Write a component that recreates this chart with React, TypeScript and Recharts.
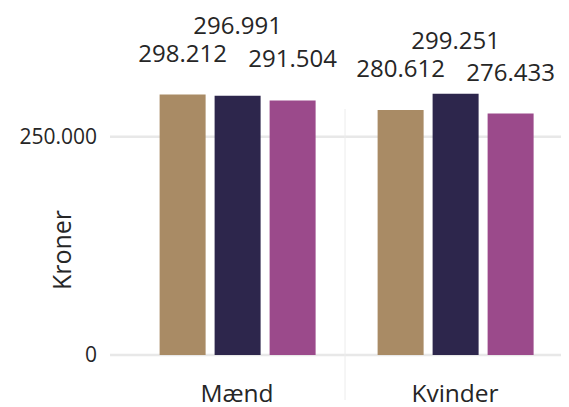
import { BarChart, Bar, XAxis, YAxis, CartesianGrid } from "recharts";

const categories = ["Mænd", "Kvinder"];
const series1 = [298212, 280612];
const series2 = [296991, 299251];
const series3 = [291504, 276433];
const yTicks = [0, 250000];

const colors = ["#A98B65", "#2D264C", "#9B4A8B"];
const FONT = "'Open Sans', sans-serif";
const TEXT = "#262626";

const data = categories.map((name, i) => ({
  name,
  a: series1[i],
  b: series2[i],
  c: series3[i],
}));

const fmt = (v: number) => v.toLocaleString("da-DK");

// label sits a fixed distance above the bar; the middle one is pushed up
// so it doesn't collide with its neighbours
const LABEL_GAP = 42.5;
const STACK_GAP = 27.5;

function makeLabel(kind: "side" | "middle") {
  return (props: any) => {
    const { x, y, width, height, value, index } = props;
    let cy = y - LABEL_GAP;
    if (kind === "middle") {
      const perUnit = height / value;
      const base = y + height;
      const nTops = [series1[index], series3[index]].map(
        (v) => base - v * perUnit - LABEL_GAP
      );
      cy = Math.min(cy, Math.min(...nTops) - STACK_GAP);
    }
    return (
      <text
        x={x + width / 2}
        y={cy}
        textAnchor="middle"
        dominantBaseline="central"
        fontSize={24}
        fontFamily={FONT}
        fill={TEXT}
      >
        {fmt(value)}
      </text>
    );
  };
}

function XTick(props: any) {
  const { x, y, payload, index } = props;
  return (
    <g>
      {index === 1 && (
        <line
          x1={x - 110}
          x2={x - 110}
          y1={y - 273}
          y2={y + 18}
          stroke="#ececec"
          strokeWidth={1}
        />
      )}
      <text
        x={x}
        y={y + 10}
        textAnchor="middle"
        dominantBaseline="central"
        fontSize={24.5}
        fontFamily={FONT}
        fill={TEXT}
      >
        {payload.value}
      </text>
    </g>
  );
}

// grid lines only at the tick values (scale is a function in some versions,
// an object with .map in others)
const gridRows = (p: any) => {
  const s = p?.yAxis?.scale;
  let f: ((v: number) => number) | null = null;
  if (typeof s === "function") f = s;
  else if (s && typeof s.map === "function") f = (v) => s.map(v);
  else if (s && typeof s.scale === "function") f = (v) => s.scale(v);
  if (!f) return [];
  return yTicks.map((t) => f!(t));
};

export default function App() {
  return (
    <BarChart
      width={561}
      height={399}
      data={data}
      margin={{ top: 85, right: 0, bottom: 0, left: 0 }}
      barCategoryGap="14.5%"
      barGap={9}
      style={{ overflow: "visible" }}
    >
      <CartesianGrid
        vertical={false}
        stroke="#e8e8e8"
        strokeWidth={2.5}
        horizontalCoordinatesGenerator={gridRows}
      />
      <XAxis
        dataKey="name"
        axisLine={false}
        tickLine={false}
        tickMargin={21}
        height={52}
        padding={{ left: 18, right: 5 }}
        tick={<XTick />}
      />
      <YAxis
        width={102}
        domain={[0, 300000]}
        ticks={yTicks}
        axisLine={false}
        tickLine={false}
        tickMargin={7}
        tickFormatter={fmt}
        tick={{ fontSize: 21, fontFamily: FONT, fill: TEXT }}
        label={{
          value: "Kroner",
          angle: -90,
          position: "center",
          dx: 3,
          dy: 26,
          style: { fontSize: 25, fontFamily: FONT, fill: TEXT },
        }}
      />
      <Bar dataKey="a" fill={colors[0]} isAnimationActive={false} label={makeLabel("side")} />
      <Bar dataKey="b" fill={colors[1]} isAnimationActive={false} label={makeLabel("middle")} />
      <Bar dataKey="c" fill={colors[2]} isAnimationActive={false} label={makeLabel("side")} />
    </BarChart>
  );
}
